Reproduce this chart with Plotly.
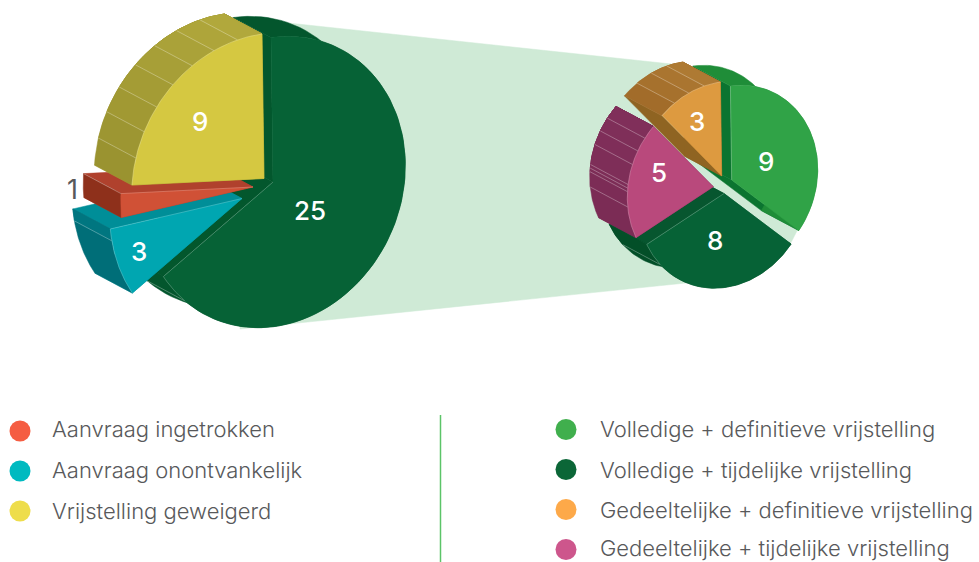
import numpy as np
import plotly.graph_objects as go

# ---- data ----
left_labels = ["Aanvraag ingetrokken", "Aanvraag onontvankelijk", "Vrijstelling geweigerd"]
right_labels = ["Volledige + definitieve vrijstelling", "Volledige + tijdelijke vrijstelling",
                "Gedeeltelijke + definitieve vrijstelling", "Gedeeltelijke + tijdelijke vrijstelling"]
main_names = ["Toegekend", "Aanvraag onontvankelijk", "Aanvraag ingetrokken", "Vrijstelling geweigerd"]
main_values = [25, 3, 1, 9]
detail_names = right_labels[:2] + [right_labels[3], right_labels[2]]
detail_values = [9, 8, 5, 3]

# ---- geometry / style (not data) ----
AX, AY, BX, BY = 132.3, -18.6, -2.0, -144.5
DEPTH = (-37.5, -20.0)
FONT = "Inter"
TEXT = "#58595B"

main_style = [
    dict(apex=(273, 182), face="#066236", band="#03572D", rim=("#03562D", "#03562D"), lines=[.94],
         arc_hl=[(.94, 1.0)], rad_hl=[1], lab=(310, 210)),
    dict(apex=(242, 198.5), face="#00A6B1", band="#008E98", rim=("#006E78", "#007680"), lines=[.83],
         arc_hl=[(0, 1)], rad_hl=[1], lab=(139, 251)),
    dict(apex=(253, 187), face="#D05136", band="#B0412D", rim=("#8E301B", "#8E301B"), lines=[1.0],
         arc_hl=[], rad_hl=[1], lab=None),
    dict(apex=(264, 178.5), face="#D5C841", band="#A89F35", rim=("#9A9330", "#B1A83C"),
         lines=[i / 8 for i in range(1, 8)], arc_hl=[(0, 1)], rad_hl=[], lab=(200, 121)),
]
detail_style = [
    dict(apex=(731.7, 180), face="#30A347", band="#0B7430", rim=("#1F8D38", "#1F8D38"), lines=[],
         arc_hl=[], rad_hl=[0], lab=(766, 161)),
    dict(apex=(724, 193.5), face="#066236", band="#07562F", rim=("#034F28", "#034F28"), lines=[.86],
         arc_hl=[(.86, 1.0)], rad_hl=[1], lab=(715, 240)),
    dict(apex=(713.3, 186.7), face="#B9497C", band="#7B2C55", rim=("#7B2C55", "#802F5A"),
         lines=[.28, .41, .44, .47, .64, .76, .88], arc_hl=[(0, 1)], rad_hl=[], lab=(659, 172)),
    dict(apex=(721.7, 176), face="#DD9A40", band="#8F6422", rim=("#A26C2A", "#AE7A33"),
         lines=[.25, .5, .75], arc_hl=[(0, 1)], rad_hl=[], lab=(697, 121)),
]
MAIN_SCALE, DETAIL_SCALE = 1.0, 0.65

fig = go.Figure()


def poly(xs, ys, color, lw=0.5):
    fig.add_trace(go.Scatter(x=list(xs), y=list(ys), mode="lines", fill="toself", fillcolor=color,
                             line=dict(color=color, width=lw), hoverinfo="skip", showlegend=False))


def stroke(xs, ys, color, width=0.8):
    fig.add_trace(go.Scatter(x=list(xs), y=list(ys), mode="lines", hoverinfo="skip", showlegend=False,
                             line=dict(color=color, width=width)))


def mix(a, b, t):
    ca = [int(a[i:i + 2], 16) for i in (1, 3, 5)]
    cb = [int(b[i:i + 2], 16) for i in (1, 3, 5)]
    return "#%02x%02x%02x" % tuple(round(p + (q - p) * t) for p, q in zip(ca, cb))


def point(apex, s, deg):
    t = np.radians(deg)
    return (apex[0] + s * (AX * np.sin(t) + BX * np.cos(t)),
            apex[1] + s * (AY * np.sin(t) + BY * np.cos(t)))


def draw_pie(values, styles, scale):
    total = sum(values)
    edges = np.cumsum([0] + values) / total * 360
    dx, dy = DEPTH
    for i in range(len(values)):
        st, t0, t1 = styles[i], edges[i], edges[i + 1]
        ap = st["apex"]
        span = t1 - t0
        # radial side walls
        for t in (t0, t1):
            px, py = point(ap, scale, t)
            poly([ap[0], px, px + dx, ap[0] + dx, ap[0]], [ap[1], py, py + dy, ap[1] + dy, ap[1]], st["band"])
        # rim: flat-coloured facets, each painted through to the arc's end so no seams show
        stops = [0.0] + [f for f in st["lines"] if f < 1.0]
        for k, f in enumerate(stops):
            th = np.linspace(t0 + span * f, t1, 80)
            pts = [point(ap, scale, t) for t in th]
            xs = [p[0] for p in pts] + [p[0] + dx for p in reversed(pts)]
            ys = [p[1] for p in pts] + [p[1] + dy for p in reversed(pts)]
            poly(xs + xs[:1], ys + ys[:1], mix(st["rim"][0], st["rim"][1], k / max(1, len(stops) - 1)))
        # thin light facet lines
        lx, ly = [], []
        for f in st["lines"]:
            x, y = point(ap, scale, t0 + span * f)
            lx += [x, x + dx, None]
            ly += [y, y + dy, None]
        if lx:
            stroke(lx, ly, "rgba(255,255,255,0.38)")
        # front face
        th = np.linspace(t0, t1, 140)
        pts = [point(ap, scale, t) for t in th]
        poly([ap[0]] + [p[0] for p in pts] + [ap[0]], [ap[1]] + [p[1] for p in pts] + [ap[1]], st["face"])
        # light highlights on selected edges
        for f0, f1 in st["arc_hl"]:
            pts = [point(ap, scale, t) for t in np.linspace(t0 + span * f0, t0 + span * f1, 60)]
            stroke([p[0] for p in pts], [p[1] for p in pts], "rgba(255,255,255,0.3)", 0.7)
        for side in st["rad_hl"]:
            px, py = point(ap, scale, t1 if side else t0)
            stroke([ap[0], px], [ap[1], py], "rgba(255,255,255,0.3)", 0.7)
    for v, st in zip(values, styles):
        if st["lab"]:
            fig.add_annotation(x=st["lab"][0], y=st["lab"][1], text=str(v), showarrow=False,
                               font=dict(family=FONT, size=26, color="white", weight=500))


# pale connector between the two pies
poly([265, 670, 690, 780, 798, 790, 686, 240, 265],
     [20.5, 64, 66, 150, 229, 244.5, 283, 329, 20.5], "#CFEAD6")

draw_pie(main_values, main_style, MAIN_SCALE)
draw_pie(detail_values, detail_style, DETAIL_SCALE)

fig.add_annotation(x=72, y=189, text=str(main_values[2]), showarrow=False,
                   font=dict(family=FONT, size=27, color=TEXT, weight=400))

# legend
left_colors = ["#F55D42", "#00BAC0", "#EEDD4B"]
right_colors = ["#40AF4D", "#0B6637", "#FDA949", "#CD568C"]
left_y = [431, 471, 511]
right_y = [429.5, 469.5, 509.5, 549.5]
fig.add_trace(go.Scatter(x=[20] * 3, y=left_y, mode="markers", hoverinfo="skip", showlegend=False,
                         marker=dict(size=21, color=left_colors)))
fig.add_trace(go.Scatter(x=[566] * 4, y=right_y, mode="markers", hoverinfo="skip", showlegend=False,
                         marker=dict(size=21, color=right_colors)))
for lab, y in zip(left_labels, [428.5, 470, 510.5]):
    fig.add_annotation(x=50, y=y, text=lab, showarrow=False, xanchor="left",
                       font=dict(family=FONT, size=22, color=TEXT, weight=300))
for lab, y in zip(right_labels, [428.5, 469.5, 509.5, 548]):
    fig.add_annotation(x=598, y=y, text=lab, showarrow=False, xanchor="left",
                       font=dict(family=FONT, size=22, color=TEXT, weight=300))
fig.add_shape(type="line", x0=440.5, x1=440.5, y0=415, y1=562, line=dict(color="#5CC468", width=1.5))

fig.update_layout(width=979, height=562, margin=dict(l=0, r=0, t=0, b=0), autosize=False,
                  paper_bgcolor="white", plot_bgcolor="white", showlegend=False,
                  xaxis=dict(range=[0, 979], visible=False, fixedrange=True),
                  yaxis=dict(range=[562, 0], visible=False, fixedrange=True))
fig.write_html("out.html", config=dict(displayModeBar=False),
               post_script="document.body.style.margin='0';")
